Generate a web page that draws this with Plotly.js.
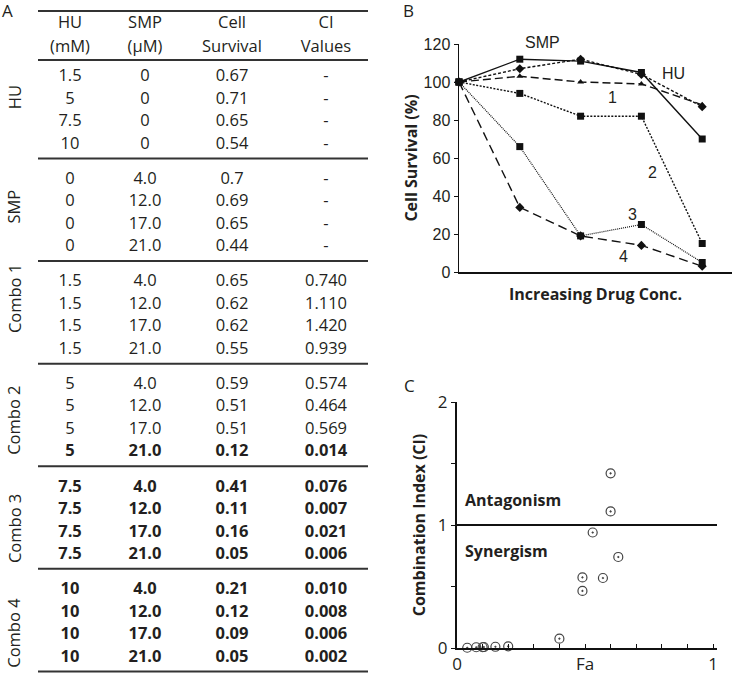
<!DOCTYPE html>
<html><head><meta charset="utf-8">
<script src="https://cdn.plot.ly/plotly-3.0.1.min.js"></script>
<style>html,body{margin:0;padding:0;background:#fff}</style>
</head><body><div id="chart" style="width:733px;height:674px"></div>
<script>
// ---------- Panel A: table data ----------
const groupNames = ['HU', 'SMP', 'Combo 1', 'Combo 2', 'Combo 3', 'Combo 4'];
const headerTop = ['HU', 'SMP', 'Cell', 'CI'];
const headerBottom = ['(mM)', '(μM)', 'Survival', 'Values'];
const colHU = ['1.5','5','7.5','10', '0','0','0','0', '1.5','1.5','1.5','1.5', '5','5','5','5', '7.5','7.5','7.5','7.5', '10','10','10','10'];
const colSMP = ['0','0','0','0', '4.0','12.0','17.0','21.0', '4.0','12.0','17.0','21.0', '4.0','12.0','17.0','21.0', '4.0','12.0','17.0','21.0', '4.0','12.0','17.0','21.0'];
const colSurvival = ['0.67','0.71','0.65','0.54', '0.7','0.69','0.65','0.44', '0.65','0.62','0.62','0.55', '0.59','0.51','0.51','0.12', '0.41','0.11','0.16','0.05', '0.21','0.12','0.09','0.05'];
const colCI = ['-','-','-','-', '-','-','-','-', '0.740','1.110','1.420','0.939', '0.574','0.464','0.569','0.014', '0.076','0.007','0.021','0.006', '0.010','0.008','0.006','0.002'];
const boldRows = [15, 16, 17, 18, 19, 20, 21, 22, 23];

// ---------- Panel B: cell survival (%) ----------
const doseSteps = [0, 1, 2, 3, 4];
const survSMP    = [100, 112, 111, 105, 70];
const survHU     = [100, 107, 112, 104, 87];
const survCombo1 = [100, 103, 100, 99, 88];
const survCombo2 = [100, 94, 82, 82, 15];
const survCombo3 = [100, 66, 19, 25, 5];
const survCombo4 = [100, 34, 19, 14, 3];
const seriesLabels = ['SMP', 'HU', '1', '2', '3', '4'];

// ---------- Panel C: Fa vs CI ----------
const faValues = [0.60, 0.60, 0.53, 0.63, 0.49, 0.49, 0.57, 0.40, 0.04, 0.075, 0.10, 0.105, 0.15, 0.20];
const ciValues = [1.420, 1.110, 0.939, 0.740, 0.574, 0.464, 0.569, 0.076, 0.002, 0.006, 0.006, 0.008, 0.010, 0.014];
const regionLabels = ['Antagonism', 'Synergism'];

// ---------- layout constants ----------
const FONT = 'Open Sans, sans-serif';
const ARIAL = 'Liberation Sans, Arial, sans-serif';
const INK = '#231f20';
const W = 733, H = 674;
const colCenters = [70, 145, 232, 326];   // table column centres (x3 units = px)
const groupPitch = 4.56;                  // row slots per group
const rowPx = 22.5, firstRowPx = 77;
const slotTop = -firstRowPx / rowPx, slotBottom = (H - firstRowPx) / rowPx;
const tableX0 = 38, tableX1 = 368;

// table cells
const cx = [], cy = [], ct = [];
const nRows = colHU.length;
const cols = [colHU, colSMP, colSurvival, colCI];
for (let i = 0; i < nRows; i++) {
  const g = Math.floor(i / 4), r = i % 4;
  const slot = g * groupPitch + r;
  const bold = boldRows.indexOf(i) >= 0;
  cols.forEach((col, c) => {
    cx.push(colCenters[c]); cy.push(slot);
    ct.push(bold ? '<b>' + col[i] + '</b>' : col[i]);
  });
}
headerTop.forEach((h, c) => { cx.push(colCenters[c]); cy.push(-2.36); ct.push(h); });
headerBottom.forEach((h, c) => { cx.push(colCenters[c]); cy.push(-1.29); ct.push(h); });

const traces = [];
traces.push({
  type: 'scatter', mode: 'text', x: cx, y: cy, text: ct, xaxis: 'x3', yaxis: 'y3',
  textposition: 'middle center', cliponaxis: false, hoverinfo: 'skip', showlegend: false,
  textfont: {family: FONT, size: 16.5, color: INK}
});

// panel B traces
const bSeries = [
  {y: survSMP, dash: 'solid', sym: 'square', size: 7, w: 1.4},
  {y: survHU, dash: '3px,2px', sym: 'diamond', size: 7, w: 1.4},
  {y: survCombo1, dash: '8px,4px', sym: 'triangle-up', size: 6, w: 1.4},
  {y: survCombo2, dash: '2px,1.5px', sym: 'square', size: 7, w: 1.4},
  {y: survCombo3, dash: '1px,1px', sym: 'square', size: 7, w: 1.2},
  {y: survCombo4, dash: '9px,5px', sym: 'diamond', size: 7, w: 1.4}
];
bSeries.forEach((s, k) => {
  traces.push({
    type: 'scatter', mode: 'lines+markers', x: doseSteps, y: s.y, xaxis: 'x', yaxis: 'y',
    name: seriesLabels[k], showlegend: false, cliponaxis: false,
    line: {color: '#111', width: s.w, dash: s.dash},
    marker: {symbol: s.sym, size: s.size, color: '#111'}
  });
});

// panel C trace
traces.push({
  type: 'scatter', mode: 'markers', x: faValues, y: ciValues, xaxis: 'x2', yaxis: 'y2',
  showlegend: false, cliponaxis: false,
  marker: {symbol: 'circle-open-dot', size: 9, color: '#444', line: {width: 1.2, color: '#444'}}
});

// shapes: table rules + CI = 1 line
const shapes = [];
const rule = (slot) => ({type: 'line', xref: 'x3', yref: 'y3', x0: tableX0, x1: tableX1, y0: slot, y1: slot,
  line: {color: '#333', width: 2}});
shapes.push(rule(-2.93));
shapes.push(rule(-0.76));
groupNames.forEach((g, k) => shapes.push(rule(k * groupPitch + 3.62)));
shapes.push({type: 'line', xref: 'x2 domain', yref: 'y2', x0: 0, x1: 1, y0: 1, y1: 1, line: {color: '#111', width: 2}});

// annotations
const annotations = [];
const labelOffsets = [-0.6, -0.3, -0.75, 0.1, 0.35, 0.4];
groupNames.forEach((g, k) => {
  annotations.push({xref: 'x3', yref: 'y3', x: 14, y: k * groupPitch + 1.5 + labelOffsets[k], text: g,
    textangle: -90, showarrow: false, font: {family: FONT, size: 16.5, color: INK}});
});
[['A', 0, 1.004], ['B', 401 / W, 1.004], ['C', 402 / W, (H - 372) / H]].forEach(p => {
  annotations.push({xref: 'paper', yref: 'paper', x: p[1], y: p[2], xanchor: 'left', yanchor: 'top',
    text: p[0], showarrow: false, font: {family: FONT, size: 17, color: INK}});
});
// series labels in B (SMP sits just above the top of the axis range)
const bYMax = 120;
const bLabelPos = [[1.38, 121], [3.52, 104.7], [2.52, 92], [3.19, 52.6], [2.86, 30], [2.70, 7.9]];
seriesLabels.forEach((t, k) => {
  annotations.push({xref: 'x', yref: 'y domain', x: bLabelPos[k][0], y: bLabelPos[k][1] / bYMax, text: t, showarrow: false,
    xanchor: 'center', yanchor: 'middle', font: {family: ARIAL, size: 16, color: INK}});
});
// region labels in C
const regionY = [1.2, 0.79];
regionLabels.forEach((t, k) => {
  annotations.push({xref: 'x2', yref: 'y2', x: 0.025, y: regionY[k], xanchor: 'left', yanchor: 'middle', text: '<b>' + t + '</b>',
    showarrow: false, font: {family: FONT, size: 16, color: INK}});
});

const titleFont = {family: FONT, size: 16, color: INK, weight: 'bold'};
const layout = {
  width: W, height: H, margin: {l: 0, r: 0, t: 0, b: 0},
  paper_bgcolor: '#fff', plot_bgcolor: 'rgba(0,0,0,0)', showlegend: false,
  xaxis: {domain: [459 / W, 732 / W], range: [0, 4.49], anchor: 'y', showline: true, linewidth: 2, linecolor: '#111',
    ticks: '', showticklabels: false, showgrid: false, zeroline: false, automargin: false,
    title: {text: 'Increasing Drug Conc.', font: titleFont, standoff: 16}},
  yaxis: {domain: [(H - 272) / H, (H - 44) / H], range: [0, bYMax], anchor: 'x', dtick: 20, ticks: 'outside', ticklen: 4,
    tickcolor: '#111', showline: true, linewidth: 1.5, linecolor: '#111', showgrid: false, zeroline: false, automargin: false,
    tickfont: {family: ARIAL, size: 16, color: INK},
    title: {text: 'Cell Survival (%)', font: titleFont, standoff: 2}},
  xaxis2: {domain: [457 / W, 717 / W], range: [0, 1.0156], anchor: 'y2', showline: true, linewidth: 2, linecolor: '#111',
    tickvals: [0, 0.1, 0.2, 0.3, 0.4, 0.5, 0.6, 0.7, 0.8, 0.9, 1], ticktext: ['0', '', '', '', '', 'Fa', '', '', '', '', '1'],
    ticks: 'inside', ticklen: 4, tickcolor: '#111', showgrid: false, zeroline: false, automargin: false,
    tickfont: {family: FONT, size: 17, color: INK}},
  yaxis2: {domain: [(H - 648) / H, (H - 402) / H], range: [0, 2], anchor: 'x2', showline: true, linewidth: 2, linecolor: '#111',
    tickvals: [0, 0.5, 1, 1.5, 2], ticktext: ['0', '', '1', '', '2'], ticks: 'outside', ticklen: 4, tickcolor: '#111',
    showgrid: false, zeroline: false, automargin: false, tickfont: {family: FONT, size: 17, color: INK},
    title: {text: 'Combination Index (CI)', font: titleFont, standoff: 8}},
  xaxis3: {domain: [0, 1], range: [0, W], anchor: 'y3', visible: false, fixedrange: true},
  yaxis3: {domain: [0, 1], range: [slotBottom, slotTop], anchor: 'x3', visible: false, fixedrange: true},
  shapes: shapes, annotations: annotations
};
Plotly.newPlot('chart', traces, layout, {displayModeBar: false, staticPlot: true});
</script></body></html>
